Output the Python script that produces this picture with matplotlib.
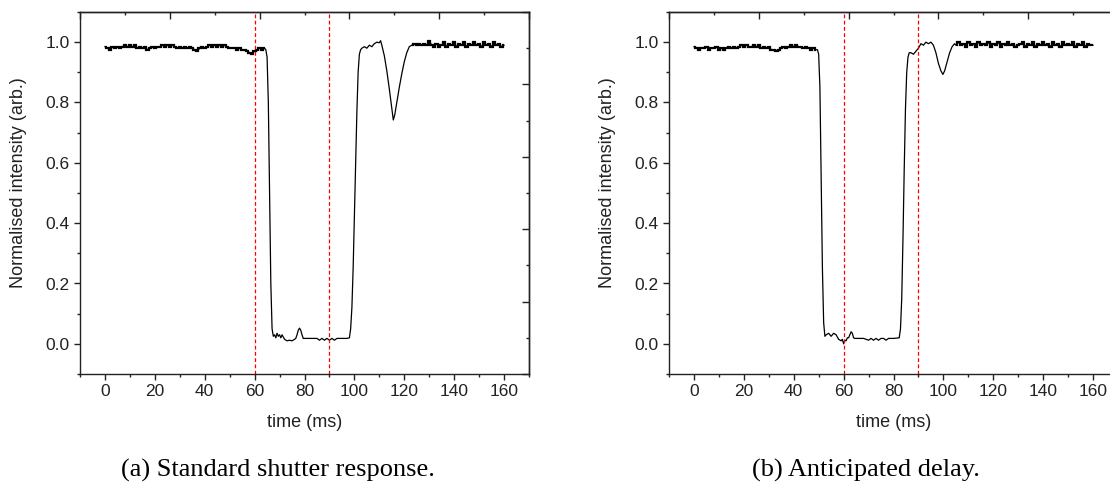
import numpy as np
import matplotlib.pyplot as plt

# ---- Data ----
# (a) standard shutter response
t_a_flat = np.arange(0, 65)
y_a_flat = [0.985, 0.98, 0.975, 0.985, 0.98, 0.985, 0.98, 0.985, 0.99, 0.985, 0.99,
            0.985, 0.99, 0.98, 0.985, 0.98, 0.985, 0.975, 0.98, 0.985, 0.98,
            0.985, 0.985, 0.99, 0.985, 0.99, 0.985, 0.99, 0.985, 0.98, 0.985,
            0.98, 0.985, 0.98, 0.985, 0.98, 0.975, 0.97, 0.98, 0.985, 0.98,
            0.985, 0.99, 0.985, 0.99, 0.985, 0.99, 0.985, 0.99, 0.985, 0.98,
            0.98, 0.98, 0.975, 0.98, 0.975, 0.975, 0.97, 0.965, 0.962, 0.97,
            0.975, 0.98, 0.975, 0.98]
t_a_mid = [64.5, 65, 65.5, 66, 66.5, 67, 67.5,
           68, 68.5, 69, 69.5, 70, 70.5, 71, 72, 73, 74, 75, 76,
           76.5, 77, 77.5, 78, 78.5, 79, 79.5,
           80, 82, 84, 85, 86, 87, 88, 89, 90, 91, 92, 93, 95, 97, 98,
           98.5, 99, 99.5, 100, 100.5, 101, 101.5, 102, 102.5,
           103, 104, 105, 106, 107, 108, 109, 110, 110.5,
           111, 112, 113, 114, 115, 115.6, 116.2, 117, 118, 119, 120, 121, 122]
y_a_mid = [0.975, 0.95, 0.8, 0.5, 0.2, 0.05, 0.025,
           0.03, 0.02, 0.035, 0.025, 0.03, 0.02, 0.03, 0.015, 0.01, 0.012, 0.01, 0.015,
           0.018, 0.03, 0.045, 0.052, 0.045, 0.03, 0.018,
           0.018, 0.018, 0.018, 0.018, 0.012, 0.018, 0.012, 0.018, 0.012, 0.018, 0.012, 0.018, 0.018, 0.018, 0.02,
           0.05, 0.12, 0.25, 0.42, 0.6, 0.77, 0.9, 0.96, 0.975,
           0.98, 0.985, 0.98, 0.99, 0.985, 0.995, 1.0, 0.998, 1.005,
           0.99, 0.955, 0.905, 0.845, 0.78, 0.742, 0.76, 0.8, 0.85, 0.895, 0.935, 0.965, 0.985]
t_a_end = np.arange(123, 161)
y_a_end = [0.99, 0.995, 0.99, 0.995, 0.99, 0.995, 0.99, 1.005, 0.99, 0.985,
           0.995, 0.985, 0.99, 1.0, 0.985, 0.995, 0.99, 1.0, 0.985, 0.995,
           0.99, 1.0, 0.985, 0.995, 0.99, 1.0, 0.99, 0.995, 0.985, 1.0,
           0.99, 0.995, 0.985, 1.0, 0.99, 0.995, 0.985, 0.99]

# (b) anticipated delay
t_b_flat = np.arange(0, 50)
y_b_flat = [0.985, 0.98, 0.975, 0.98, 0.98, 0.985, 0.975, 0.98, 0.98, 0.985,
            0.975, 0.98, 0.975, 0.98, 0.985, 0.98, 0.985, 0.98, 0.985, 0.99,
            0.985, 0.99, 0.985, 0.985, 0.99, 0.985, 0.99, 0.98, 0.985, 0.98,
            0.985, 0.975, 0.975, 0.972, 0.975, 0.98, 0.985, 0.98, 0.985, 0.99,
            0.985, 0.99, 0.985, 0.985, 0.98, 0.985, 0.98, 0.975, 0.98, 0.975]
t_b_mid = [49.5, 50, 50.5, 51, 51.5, 52, 52.5,
           53, 54, 55, 56, 57, 58, 59, 59.5, 60, 60.5, 61, 61.5,
           62, 62.5, 63, 63.5, 64, 64.5,
           66, 68, 70, 71, 72, 73, 74, 75, 76, 77, 78, 80, 82.3,
           82.8, 83.3, 83.8, 84.3, 84.8, 85.3, 85.8, 86.3,
           87, 88, 89, 90, 91, 92, 93, 94, 95,
           96, 97, 98, 99, 99.8, 100.5, 101.5, 102.5, 103.5, 104.5]
y_b_mid = [0.975, 0.96, 0.85, 0.55, 0.25, 0.07, 0.025,
           0.03, 0.035, 0.025, 0.035, 0.03, 0.015, 0.01, 0.015, 0.0, 0.012, 0.01, 0.02,
           0.02, 0.03, 0.04, 0.035, 0.02, 0.018,
           0.018, 0.018, 0.012, 0.018, 0.012, 0.018, 0.012, 0.018, 0.018, 0.012, 0.018, 0.018, 0.02,
           0.05, 0.15, 0.35, 0.58, 0.78, 0.9, 0.95, 0.965,
           0.965, 0.96, 0.97, 0.98, 0.995, 0.99, 1.0, 0.995, 1.0,
           0.99, 0.965, 0.93, 0.905, 0.893, 0.905, 0.935, 0.965, 0.985, 0.995]
t_b_end = np.arange(105, 161)
y_b_end = [0.99, 1.0, 0.99, 0.995, 0.985, 1.0, 0.99, 0.995, 0.985, 1.0,
           0.99, 0.995, 0.99, 1.0, 0.985, 0.995, 0.99, 1.0, 0.985, 0.995,
           0.99, 1.0, 0.99, 0.995, 0.985, 0.99, 0.995, 1.0, 0.985, 0.995,
           0.99, 1.0, 0.985, 0.995, 0.99, 1.0, 0.99, 0.995, 0.985, 1.0,
           0.99, 0.995, 0.985, 1.0, 0.99, 0.995, 0.99, 1.0, 0.985, 0.995,
           0.99, 1.0, 0.985, 0.995, 0.99, 0.99]

markers_ms = [60, 90]
captions = ["(a) Standard shutter response.", "(b) Anticipated delay."]

time_a = np.concatenate([t_a_flat, t_a_mid, t_a_end])
sig_a = np.concatenate([y_a_flat, y_a_mid, y_a_end])
time_b = np.concatenate([t_b_flat, t_b_mid, t_b_end])
sig_b = np.concatenate([y_b_flat, y_b_mid, y_b_end])
noisy_a = [(t_a_flat, y_a_flat), (t_a_end, y_a_end)]
noisy_b = [(t_b_flat, y_b_flat), (t_b_end, y_b_end)]

plt.rcParams['font.family'] = ['Liberation Sans', 'DejaVu Sans']
W, H = 1110, 486
fig = plt.figure(figsize=(W / 100, H / 100), dpi=100)

ink = '#222222'
panels = [(80, time_a, sig_a, noisy_a, 278), (669, time_b, sig_b, noisy_b, 866)]
for (left, t, y, noisy, cap_x), cap in zip(panels, captions):
    ax = fig.add_axes([left / W, (H - 374) / H, 449 / W, 362 / H])
    ax.plot(t, y, color='black', lw=0.9)
    # the flat parts of the trace are dense noise, drawn as a thick band
    for nt, ny in noisy:
        ax.plot(nt, ny, color='black', lw=1.6, drawstyle='steps-mid',
                solid_joinstyle='miter', solid_capstyle='butt')
    for m in markers_ms:
        ax.axvline(m, color='red', lw=0.9, ls=(0, (3, 2)))
    ax.set_xlim(-10, 170)
    ax.set_ylim(-0.1, 1.1)
    ax.set_xticks(np.arange(0, 161, 20))
    ax.set_xticks(np.arange(-10, 171, 10), minor=True)
    ax.set_yticks(np.arange(0, 1.01, 0.2))
    ax.set_yticks(np.arange(-0.1, 1.11, 0.1), minor=True)
    ax.set_yticklabels([f'{v:.1f}' for v in np.arange(0, 1.01, 0.2)])
    ax.tick_params(which='both', direction='out', colors=ink, labelsize=12.5,
                   width=1.0, pad=3)
    ax.tick_params(which='major', length=4.3)
    ax.tick_params(which='minor', length=2.4)
    for s in ax.spines.values():
        s.set_color(ink)
        s.set_linewidth(1.0)
    ax.set_xlabel('time (ms)', fontsize=13, color=ink)
    ax.set_ylabel('Normalised intensity (arb.)', fontsize=13, color=ink)
    ax.xaxis.set_label_coords(0.5, -0.11)
    ax.yaxis.set_label_coords(-0.118, 0.53)

    # linked top / right axes with ticks pointing inwards
    top = ax.secondary_xaxis('top')
    top.set_xticks(np.linspace(-10, 170, 6))
    top.set_xticks(np.linspace(-10, 170, 11), minor=True)
    right = ax.secondary_yaxis('right')
    right.set_yticks(np.linspace(-0.1, 1.1, 6))
    right.set_yticks(np.linspace(-0.1, 1.1, 11), minor=True)
    for sec in (top, right):
        sec.tick_params(which='both', direction='in', colors=ink, width=1.0,
                        labeltop=False, labelright=False,
                        labelbottom=False, labelleft=False)
        sec.tick_params(which='major', length=4.8)
        sec.tick_params(which='minor', length=2.4)
        for s in sec.spines.values():
            s.set_color(ink)
            s.set_linewidth(1.0)

    fig.text(cap_x / W, 1 - 470 / H, cap, ha='center', va='center',
             fontsize=19, family='Liberation Serif', color='black')

fig.savefig('out.png', dpi=100)
